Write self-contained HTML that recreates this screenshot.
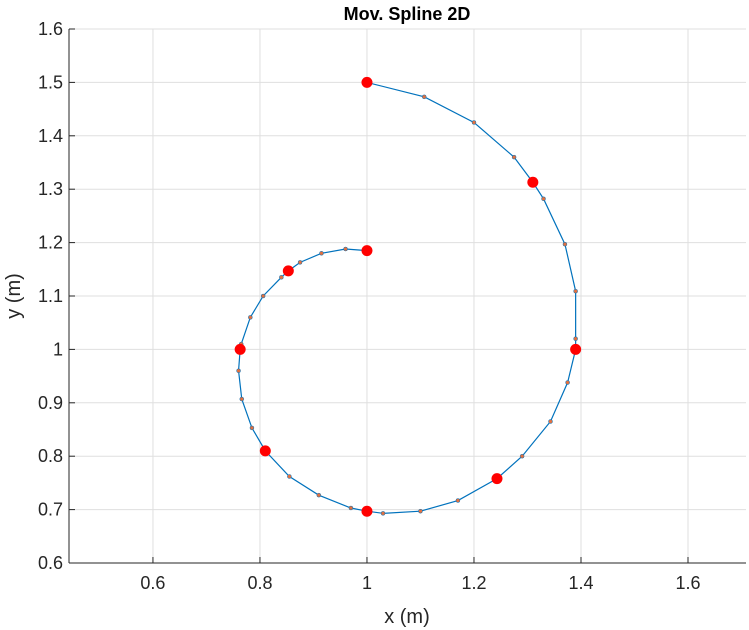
<!DOCTYPE html>
<html><head><meta charset="utf-8"><style>
body{margin:0;background:#fff;}
svg{display:block;font-family:"Liberation Sans",sans-serif;}
</style></head><body>
<svg id="chart" width="749" height="630">
<rect x="0" y="0" width="749" height="630" fill="#fff"/>
<g id="grid"></g>
<line x1="69" y1="29" x2="69" y2="563" stroke="#262626" stroke-width="1"/>
<line x1="69" y1="563" x2="746" y2="563" stroke="#262626" stroke-width="1"/>
<g id="ticks"></g>
<g id="series"></g>
<text x="407" y="20" text-anchor="middle" font-size="18" font-weight="bold" fill="#000">Mov. Spline 2D</text>
<text x="407" y="623" text-anchor="middle" font-size="20" fill="#262626">x (m)</text>
<text x="20" y="296" text-anchor="middle" font-size="20" fill="#262626" transform="rotate(-90 20 296)">y (m)</text>
</svg>
<script>
const xTicks=[0.6,0.8,1,1.2,1.4,1.6];
const xTickLabels=["0.6","0.8","1","1.2","1.4","1.6"];
const yTicks=[0.6,0.7,0.8,0.9,1,1.1,1.2,1.3,1.4,1.5,1.6];
const yTickLabels=["0.6","0.7","0.8","0.9","1","1.1","1.2","1.3","1.4","1.5","1.6"];
const pathX=[1,1.107,1.2,1.275,1.31,1.33,1.37,1.39,1.39,1.39,1.375,1.343,1.29,1.243,1.17,1.1,1.03,1,0.97,0.91,0.855,0.81,0.785,0.766,0.76,0.763,0.765,0.782,0.806,0.84,0.853,0.875,0.915,0.96,1];
const pathY=[1.5,1.473,1.425,1.36,1.313,1.282,1.197,1.109,1.02,1.0,0.938,0.865,0.8,0.758,0.717,0.697,0.693,0.697,0.703,0.727,0.762,0.81,0.853,0.907,0.96,1.0,1.01,1.06,1.1,1.135,1.147,1.163,1.18,1.188,1.185];
const keyX=[1,1.31,1.39,1.243,1,0.81,0.763,0.853,1];
const keyY=[1.5,1.313,1.0,0.758,0.697,0.81,1.0,1.147,1.185];
const X0=69,X1=746,Y0=29,Y1=563,xmin=0.4431,xmax=1.7084,ymin=0.6,ymax=1.6;
const sx=v=>X0+(v-xmin)/(xmax-xmin)*(X1-X0);
const sy=v=>Y1-(v-ymin)/(ymax-ymin)*(Y1-Y0);
const NS="http://www.w3.org/2000/svg";
function mk(t,a,p){const e=document.createElementNS(NS,t);for(const k in a)e.setAttribute(k,a[k]);p.appendChild(e);return e;}
const grid=document.getElementById('grid'),ticks=document.getElementById('ticks'),ser=document.getElementById('series');
xTicks.forEach((v,i)=>{const x=sx(v);
 const g=mk('line',{x1:x,x2:x,y1:Y0,y2:Y1,stroke:'#dfdfdf','stroke-width':1},grid);
 
 
 mk('line',{x1:x,x2:x,y1:Y1,y2:Y1-6,stroke:'#262626'},ticks);
 const t=mk('text',{x:x,y:Y1+26,'text-anchor':'middle','font-size':18,fill:'#262626'},ticks);t.textContent=xTickLabels[i];
 
 });
yTicks.forEach((v,i)=>{const y=sy(v);
 const g=mk('line',{x1:X0,x2:X1,y1:y,y2:y,stroke:'#dfdfdf','stroke-width':1},grid);
 
 
 mk('line',{x1:X0,x2:X0+6,y1:y,y2:y,stroke:'#262626'},ticks);
 const t=mk('text',{x:X0-6,y:y+6,'text-anchor':'end','font-size':18,fill:'#262626'},ticks);t.textContent=yTickLabels[i];
 
 });
const pl=mk('polyline',{points:pathX.map((x,i)=>sx(x)+','+sy(pathY[i])).join(' '),fill:'none',stroke:'#0072BD','stroke-width':1.2},ser);


pathX.forEach((x,i)=>{const c=mk('circle',{cx:sx(x),cy:sy(pathY[i]),r:2,fill:'#E07040',stroke:'#0072BD','stroke-width':0.5},ser);
 
 });
keyX.forEach((x,i)=>{const c=mk('circle',{cx:sx(x),cy:sy(keyY[i]),r:5.5,fill:'#ff0000'},ser);
 
 });
</script>
</body></html>
